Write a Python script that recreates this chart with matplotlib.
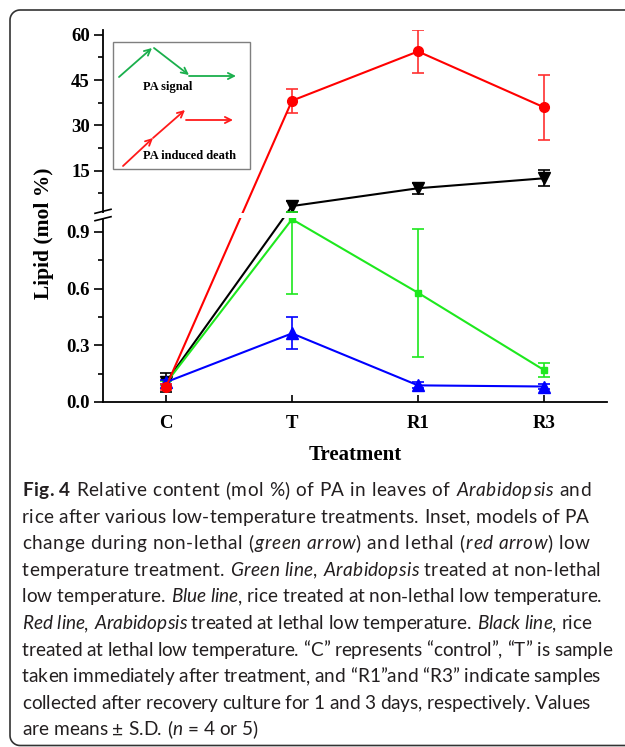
import numpy as np
import matplotlib
matplotlib.use('Agg')
import matplotlib.pyplot as plt
from matplotlib.patches import Rectangle, FancyArrowPatch
from matplotlib.lines import Line2D
import matplotlib.transforms as mtransforms

# ---------------- data ----------------
categories = ['C', 'T', 'R1', 'R3']
green_vals = [0.10, 0.967, 0.578, 0.169]
green_err = [0.01, 0.395, 0.338, 0.035]
blue_vals = [0.105, 0.363, 0.088, 0.082]
blue_err = [0.01, 0.085, 0.016, 0.015]
red_vals = [0.08, 38.2, 54.5, 36.0]
red_err = [0.016, 4.0, 7.0, 10.8]
black_vals = [0.105, 3.3, 9.2, 12.5]
black_err = [0.05, 1.8, 1.9, 2.7]

yticks_major = [0.0, 0.3, 0.6, 0.9, 15, 30, 45, 60]
ytick_labels = ['0.0', '0.3', '0.6', '0.9', '15', '30', '45', '60']
yticks_minor = [0.15, 0.45, 0.75, 7.5, 22.5, 37.5, 52.5]

caption_lines = [
    [("Fig. 4", "bold"), (" Relative content (mol %) of PA in leaves of ", "reg"), ("Arabidopsis", "it"), (" and", "reg")],
    [("rice after various low-temperature treatments. Inset, models of PA", "reg")],
    [("change during non-lethal (", "reg"), ("green arrow", "it"), (") and lethal (", "reg"), ("red arrow", "it"), (") low", "reg")],
    [("temperature treatment. ", "reg"), ("Green line", "it"), (", ", "reg"), ("Arabidopsis", "it"), (" treated at non-lethal", "reg")],
    [("low temperature. ", "reg"), ("Blue line", "it"), (", rice treated at non-lethal low temperature.", "reg")],
    [("Red line", "it"), (", ", "reg"), ("Arabidopsis", "it"), (" treated at lethal low temperature. ", "reg"), ("Black line", "it"), (", rice", "reg")],
    [("treated at lethal low temperature. \u201cC\u201d represents \u201ccontrol\u201d, \u201cT\u201d is sample", "reg")],
    [("taken immediately after treatment, and \u201cR1\u201dand \u201cR3\u201d indicate samples", "reg")],
    [("collected after recovery culture for 1 and 3 days, respectively. Values", "reg")],
    [("are means \u00b1 S.D. (", "reg"), ("n", "it"), (" = 4 or 5)", "reg")],
]
# right edge (pixels) of each caption line in the layout
caption_right = [590, 589, 588, 599, 601, 590, 612, 600, 590, 257]

# ---------------- figure ----------------
W, H = 625, 747
fig = plt.figure(figsize=(W / 100, H / 100), dpi=100)
fig.patch.set_facecolor('white')

def P(x, y):
    return (x / W, 1 - y / H)

# pixel (origin bottom-left) -> figure
pix = mtransforms.Affine2D().scale(1.0 / W, 1.0 / H) + fig.transFigure

ax_left, ax_right, ax_bottom, ax_top = 103, 607, 402, 30.3
ax = fig.add_axes([ax_left / W, 1 - ax_bottom / H, (ax_right - ax_left) / W, (ax_bottom - ax_top) / H])

BREAK = 1.0
K = 0.01598

def fwd(y):
    y = np.asarray(y, dtype=float)
    return np.where(y <= BREAK, y, BREAK + (y - BREAK) * K)

def inv(u):
    u = np.asarray(u, dtype=float)
    return np.where(u <= BREAK, u, BREAK + (u - BREAK) / K)

ax.set_yscale('function', functions=(fwd, inv))

x = np.arange(len(categories))
common = dict(lw=1.5, elinewidth=1.2, capsize=4.3, capthick=1.2)
ax.errorbar(x, black_vals, yerr=black_err, color='black', marker='v', ms=8, zorder=3, **common)
ax.errorbar(x, green_vals, yerr=green_err, color='#1ee81e', marker='s', ms=5, zorder=4, **common)
ax.errorbar(x, blue_vals, yerr=blue_err, color='#0000ff', marker='^', ms=8, zorder=5, **common)
ax.errorbar(x, red_vals, yerr=red_err, color='#ff0000', ecolor='#ff3030', marker='o', ms=7, zorder=6, **common)

ax.set_xlim(-0.5, 3.5)
ax.set_ylim(0, 61.5)
ax.set_xticks(x)
ax.set_xticklabels(categories)
ax.set_yticks(yticks_major)
ax.set_yticklabels(ytick_labels)
ax.set_yticks(yticks_minor, minor=True)

for s in ['top', 'right']:
    ax.spines[s].set_visible(False)
for s in ['left', 'bottom']:
    ax.spines[s].set_linewidth(1.3)

ax.tick_params(axis='y', which='major', direction='out', length=6.5, width=1.2, pad=3)
ax.tick_params(axis='y', which='minor', direction='out', length=3.5, width=1.2)
ax.tick_params(axis='x', which='major', direction='in', length=5, width=1.2, pad=9)
ax.tick_params(axis='x', which='minor', bottom=False)
for lab in ax.get_xticklabels() + ax.get_yticklabels():
    lab.set_fontfamily('Liberation Serif')
    lab.set_fontweight('bold')
    lab.set_fontsize(13.5)

# broken-axis gap band
blend = mtransforms.blended_transform_factory(ax.transAxes, ax.transData)
ax.add_patch(Rectangle((-0.03, 0.9735), 1.03, 1.0 - 0.9735, transform=blend,
                       facecolor='white', edgecolor='none', zorder=10, clip_on=False))
for (x0, y0, x1, y1) in [(95, 213.3, 111, 209.3), (95, 220.7, 111, 216.7)]:
    fig.add_artist(Line2D([x0, x1], [H - y0, H - y1], transform=pix,
                          color='black', lw=1.2, zorder=11))

# axis labels
fig.text(*P(355, 455), 'Treatment', ha='center', va='center',
         family='Liberation Serif', weight='bold', size=15)
fig.text(*P(44, 233), 'Lipid (mol %)', ha='center', va='center', rotation=90,
         family='Liberation Serif', weight='bold', size=15.5)

# inset
fig.add_artist(Rectangle((113, H - 169), 250 - 113, 169 - 42, transform=pix,
                         facecolor='white', edgecolor='#7f7f7f', lw=1.0, zorder=12))
green_arrow = '#1aaf4c'
red_arrow = '#ff1a1a'
def arrow(p0, p1, c):
    fig.add_artist(FancyArrowPatch((p0[0], H - p0[1]), (p1[0], H - p1[1]), transform=pix,
                   arrowstyle='->', mutation_scale=11, color=c, lw=1.3, shrinkA=0, shrinkB=0, zorder=13))
arrow((119, 77), (152, 48), green_arrow)
arrow((154, 48), (189, 75), green_arrow)
arrow((189, 76), (236, 76), green_arrow)
arrow((123, 166), (153, 138), red_arrow)
arrow((153, 138), (185, 110), red_arrow)
arrow((186, 120), (233, 120), red_arrow)
fig.text(*P(143, 87), 'PA signal', ha='left', va='center', family='Liberation Serif',
         weight='bold', size=9, zorder=13)
fig.text(*P(143, 156), 'PA induced death', ha='left', va='center', family='Liberation Serif',
         weight='bold', size=9, zorder=13)

# figure frame: left side with rounded corners, top/bottom running off the image
r = 10.0
L, T, B = 10.0, H - 10.0, 1.5
th1 = np.linspace(np.pi / 2, np.pi, 12)
th2 = np.linspace(np.pi, 1.5 * np.pi, 12)
fx = np.concatenate([[W + 20], L + r + r * np.cos(th1), L + r + r * np.cos(th2), [W + 20]])
fy = np.concatenate([[T], T - r + r * np.sin(th1), B + r + r * np.sin(th2), [B]])
fig.add_artist(Line2D(fx, fy, transform=pix, color='#333333', lw=1.2, zorder=0))

# caption
cap_family = 'Lato'
fig.canvas.draw()
renderer = fig.canvas.get_renderer()

def style_kw(st, size):
    kw = dict(family=cap_family, size=size, color='#231f20')
    if st == 'bold':
        kw['weight'] = 'bold'
    elif st == 'it':
        kw['style'] = 'italic'
    return kw

_wcache = {}
def seg_width(s, st, size):
    key = (s, st, size)
    if key not in _wcache:
        t = fig.text(0, 0, '|' + s + '|', **style_kw(st, size))
        t2 = fig.text(0, 0, '||', **style_kw(st, size))
        _wcache[key] = t.get_window_extent(renderer).width - t2.get_window_extent(renderer).width
        t.remove(); t2.remove()
    return _wcache[key]

base = 14
w7 = sum(seg_width(s, st, base) for s, st in caption_lines[6])
cap_size = base * 590.0 / w7 * 1.02

x_start = 22.0
y0 = 496
dy = 26.6
for i, line in enumerate(caption_lines):
    chars = [(c, st) for s, st in line for c in s]
    natural = sum(seg_width(c, st, cap_size) for c, st in chars)
    extra = (caption_right[i] - x_start - natural) / max(len(chars) - 1, 1)
    extra = max(min(extra, 0.8), -0.5)
    xpos = x_start
    prev_st = None
    for c, st in chars:
        if prev_st == 'reg' and st == 'it' and xpos > x_start:
            xpos += 0.8
        if c != ' ':
            fig.text(xpos / W, 1 - (y0 + dy * i) / H, c, ha='left', va='baseline', **style_kw(st, cap_size))
        xpos += seg_width(c, st, cap_size) + extra
        prev_st = st

fig.savefig('out.png', dpi=100, facecolor='white')
